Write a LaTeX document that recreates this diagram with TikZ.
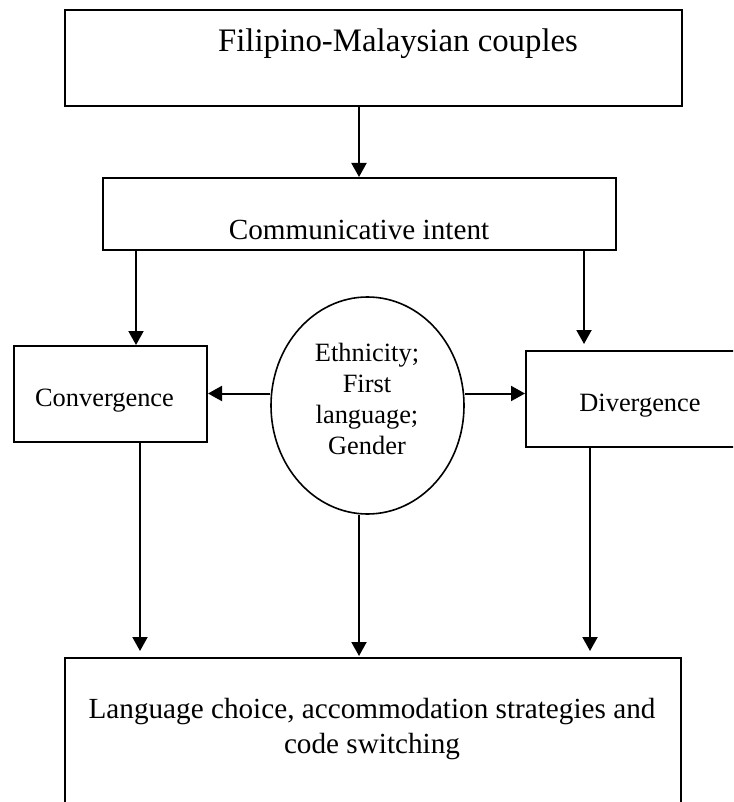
\documentclass[tikz,border=0pt]{standalone}
\usepackage{fontspec}
\setmainfont{Liberation Serif}
\usetikzlibrary{arrows.meta,shapes.geometric}
\begin{document}
\begin{tikzpicture}[x=0.5pt,y=-0.5pt,
  box/.style={draw, line width=1pt, rectangle, inner sep=0pt},
  oval/.style={draw, line width=0.8pt, ellipse, inner sep=0pt},
  txt/.style={inner sep=0pt, anchor=base},
  arr/.style={line width=1pt, -{Triangle[length=7pt,width=7.5pt]}},
  big/.style={font=\fontsize{16.4}{19}\selectfont},
  mid/.style={font=\fontsize{14.6}{17.5}\selectfont},
  small/.style={font=\fontsize{13.2}{15.5}\selectfont}]
\useasboundingbox (0,0) rectangle (733,802);
\clip (0,0) rectangle (733,802);
% boxes
\node[box, minimum width=308.5pt, minimum height=48pt] (top) at (373.5,58) {};
\node[box, minimum width=256.5pt, minimum height=36pt] (comm) at (359.5,214) {};
\node[box, minimum width=96.5pt, minimum height=48pt] (conv) at (110.5,394) {};
\node[box, minimum width=117pt, minimum height=48pt] (div) at (643,399) {};
\node[oval, minimum width=96.5pt, minimum height=108.5pt] (ell) at (367.5,405.5) {};
\node[box, minimum width=308pt, minimum height=101pt] (bot) at (373,759) {};
% texts
\node[txt, big] (ttop) at (398,52) {Filipino-Malaysian couples};
\node[txt, mid] (tcomm) at (359,240) {Communicative intent};
\node[txt, small] (tconv) at (104.5,406) {Convergence};
\node[txt, small] (tdiv) at (640,411) {Divergence};
\node[small, inner sep=0pt, align=center] (tell) at (367,399) {Ethnicity;\\First\\language;\\Gender};
\node[mid, inner sep=0pt, align=center] (tbot) at (372,729) {Language choice, accommodation strategies and\\code switching};
% guide coordinates
\coordinate (cx) at (359,0);
\coordinate (c1) at (136,0);
\coordinate (c2) at (584,0);
\coordinate (d1) at (140,0);
\coordinate (d2) at (590,0);
\coordinate (hy) at (0,393.5);
% connectors
\draw[arr] (top.south -| cx) -- (comm.north -| cx);
\draw[arr] (comm.south -| c1) -- (conv.north -| c1);
\draw[arr, shorten >=3pt] (comm.south -| c2) -- (div.north -| c2);
\draw[arr] (ell.west |- hy) -- (conv.east |- hy);
\draw[arr] (ell.east |- hy) -- (div.west |- hy);
\draw[arr, shorten >=3pt] (conv.south -| d1) -- (bot.north -| d1);
\draw[arr, shorten >=0.5pt] (ell.south -| cx) -- (bot.north -| cx);
\draw[arr, shorten >=3pt] (div.south -| d2) -- (bot.north -| d2);
\end{tikzpicture}
\end{document}
